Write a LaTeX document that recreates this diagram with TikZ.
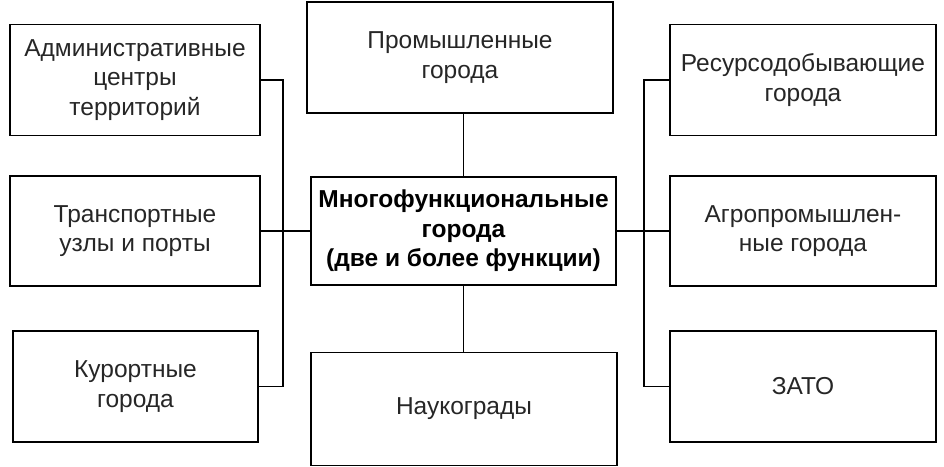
\documentclass[tikz,border=0pt]{standalone}
\usepackage{fontspec}
\setmainfont{Liberation Sans}
\begin{document}
\begin{tikzpicture}[x=1pt,y=-1pt,
    citybox/.style={draw, line width=1.2pt, align=center, inner sep=2pt,
      text=black!85, font=\fontsize{24.5}{29.5}\selectfont},
    mainbox/.style={citybox, line width=2.6pt, text=black,
      font=\fontsize{24.5}{29.5}\selectfont\bfseries},
    link/.style={line width=1.1pt}]
    \useasboundingbox (0,0) rectangle (944,466);

    % Left column
    \node[citybox, minimum width=250, minimum height=111] (adm) at (135,80)
      {Административные\\центры\\территорий};
    \node[citybox, minimum width=250, minimum height=110] (trans) at (135,231)
      {Транспортные\\узлы и порты};
    \node[citybox, minimum width=245, minimum height=111] (kur) at (135.5,386.5)
      {Курортные\\города};

    % Middle column
    \node[citybox, minimum width=306, minimum height=111] (prom) at (460,57.5)
      {Промышленные\\города};
    \node[mainbox, minimum width=305, minimum height=108] (multi) at (463.5,231)
      {Многофункциональные\\города\\(две и более функции)};
    \node[citybox, minimum width=306, minimum height=113] (nauk) at (464,409)
      {Наукограды};

    % Right column
    \node[citybox, minimum width=266, minimum height=111] (res) at (803,80)
      {Ресурсодобывающие\\города};
    \node[citybox, minimum width=266, minimum height=110] (agro) at (803,231)
      {Агропромышлен-\\ные города};
    \node[citybox, minimum width=266, minimum height=111] (zato) at (803,386.5)
      {ЗАТО};

    % Buses
    \coordinate (lbus) at (283,0);
    \coordinate (rbus) at (644,0);
    \draw[link] (adm.east) -- (adm.east -| lbus) |- (kur.east);
    \draw[link] (trans.east) -- (multi.west);
    \draw[link] (res.west) -- (res.west -| rbus) |- (zato.west);
    \draw[link] (agro.west) -- (multi.east);
    \draw[link] (prom.south -| multi.north) -- (multi.north);
    \draw[link] (multi.south) -- (multi.south |- nauk.north);
\end{tikzpicture}
\end{document}
